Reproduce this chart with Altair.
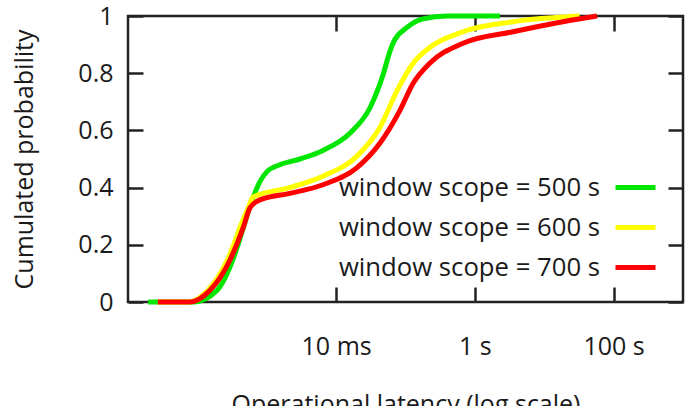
import altair as alt
import pandas as pd

series_names = ["window scope = 500 s", "window scope = 600 s", "window scope = 700 s"]
series_colors = ["#00e600", "#ffff00", "#ff0000"]

# latency in seconds, cumulative probability
lat_500 = [1.95e-5, 8.9e-5, 1.91e-4, 3.16e-4, 4.47e-4, 6.03e-4, 7.94e-4, 1.0e-3, 1.55e-3,
           3.02e-3, 6.46e-3, 0.0158, 0.0309, 0.0468, 0.0603, 0.0661, 0.105, 0.178, 0.398, 2.29]
prob_500 = [0.0, 0.0, 0.04, 0.14, 0.25, 0.35, 0.42, 0.455, 0.48,
            0.50, 0.53, 0.59, 0.68, 0.79, 0.88, 0.905, 0.96, 0.99, 1.0, 1.0]

lat_600 = [2.69e-5, 7.4e-5, 1.41e-4, 2.75e-4, 4.27e-4, 5.75e-4, 6.31e-4, 2.14e-3, 6.46e-3,
           0.02, 0.0427, 0.0759, 0.129, 0.224, 0.676, 3.55, 32.4]
prob_600 = [0.0, 0.0, 0.04, 0.15, 0.27, 0.345, 0.367, 0.40, 0.44,
            0.51, 0.61, 0.74, 0.835, 0.89, 0.945, 0.98, 1.0]

lat_700 = [2.69e-5, 7.76e-5, 1.51e-4, 2.95e-4, 4.57e-4, 5.75e-4, 7.94e-4, 2.14e-3, 6.46e-3,
           0.02, 0.0427, 0.0832, 0.129, 0.224, 0.676, 3.55, 18.6, 57.5]
prob_700 = [0.0, 0.0, 0.04, 0.147, 0.26, 0.33, 0.357, 0.38, 0.41,
            0.47, 0.555, 0.67, 0.765, 0.835, 0.905, 0.945, 0.98, 1.0]

x_tick_values = [0.01, 1, 100]
x_tick_labels = ["10 ms", "1 s", "100 s"]
y_tick_values = [0, 0.2, 0.4, 0.6, 0.8, 1]

rows = []
for name, lats, probs in zip(series_names, [lat_500, lat_600, lat_700], [prob_500, prob_600, prob_700]):
    for t, p in zip(lats, probs):
        rows.append({"series": name, "latency": t, "prob": p})
df = pd.DataFrame(rows)

label_expr = "".join(f"datum.value == {v} ? '{l}' : " for v, l in zip(x_tick_values, x_tick_labels)) + "''"

xscale = alt.Scale(type="log", domain=[1e-5, 1e3], nice=False)
yscale = alt.Scale(domain=[0, 1], nice=False)
FONT = "Open Sans"
FS = 25

lines = alt.Chart(df).mark_line(strokeWidth=5, interpolate="monotone").encode(
    x=alt.X("latency:Q", scale=xscale,
            axis=alt.Axis(orient="bottom", values=x_tick_values, labelExpr=label_expr,
                          offset=-15, tickSize=15, labelPadding=32,
                          title="Operational latency (log scale)", titlePadding=33)),
    y=alt.Y("prob:Q", scale=yscale,
            axis=alt.Axis(orient="left", values=y_tick_values, format="~g",
                          offset=-15, tickSize=15, labelPadding=15,
                          title="Cumulated probability", titlePadding=40)),
    color=alt.Color("series:N", scale=alt.Scale(domain=series_names, range=series_colors),
                    legend=alt.Legend(orient="none", legendX=485, legendY=149, title=None,
                                      symbolType="stroke", symbolSize=1600, symbolStrokeWidth=5,
                                      labelAlign="right", labelOffset={"expr": "-58"}, labelFont=FONT,
                                      labelFontSize=25.7, labelColor="#1a1a1a", labelLimit=400,
                                      rowPadding=4, padding=0)),
)

mirror = alt.Chart(df).mark_line(strokeOpacity=0).encode(
    x=alt.X("latency:Q", scale=xscale,
            axis=alt.Axis(orient="top", values=x_tick_values, labels=False, title=None,
                          offset=-15, tickSize=15)),
    y=alt.Y("prob:Q", scale=yscale,
            axis=alt.Axis(orient="right", values=y_tick_values, labels=False, title=None,
                          offset=-15, tickSize=15)),
    detail="series:N",
)

chart = alt.layer(lines, mirror).resolve_axis(x="independent", y="independent").properties(
    width=555, height=286,
    padding={"left": 128, "top": 16, "right": 7, "bottom": 104},
    autosize=alt.AutoSizeParams(type="none"),
).configure_view(stroke="#222222", strokeWidth=2.5).configure_axis(
    domain=False, grid=False, tickColor="#222222", tickWidth=2.5,
    labelFont=FONT, labelFontSize=FS, labelColor="#1a1a1a",
    titleFont=FONT, titleFontSize=FS, titleFontWeight="normal", titleColor="#1a1a1a",
)

chart.save("out.html", embed_options={"renderer": "svg", "actions": False})
